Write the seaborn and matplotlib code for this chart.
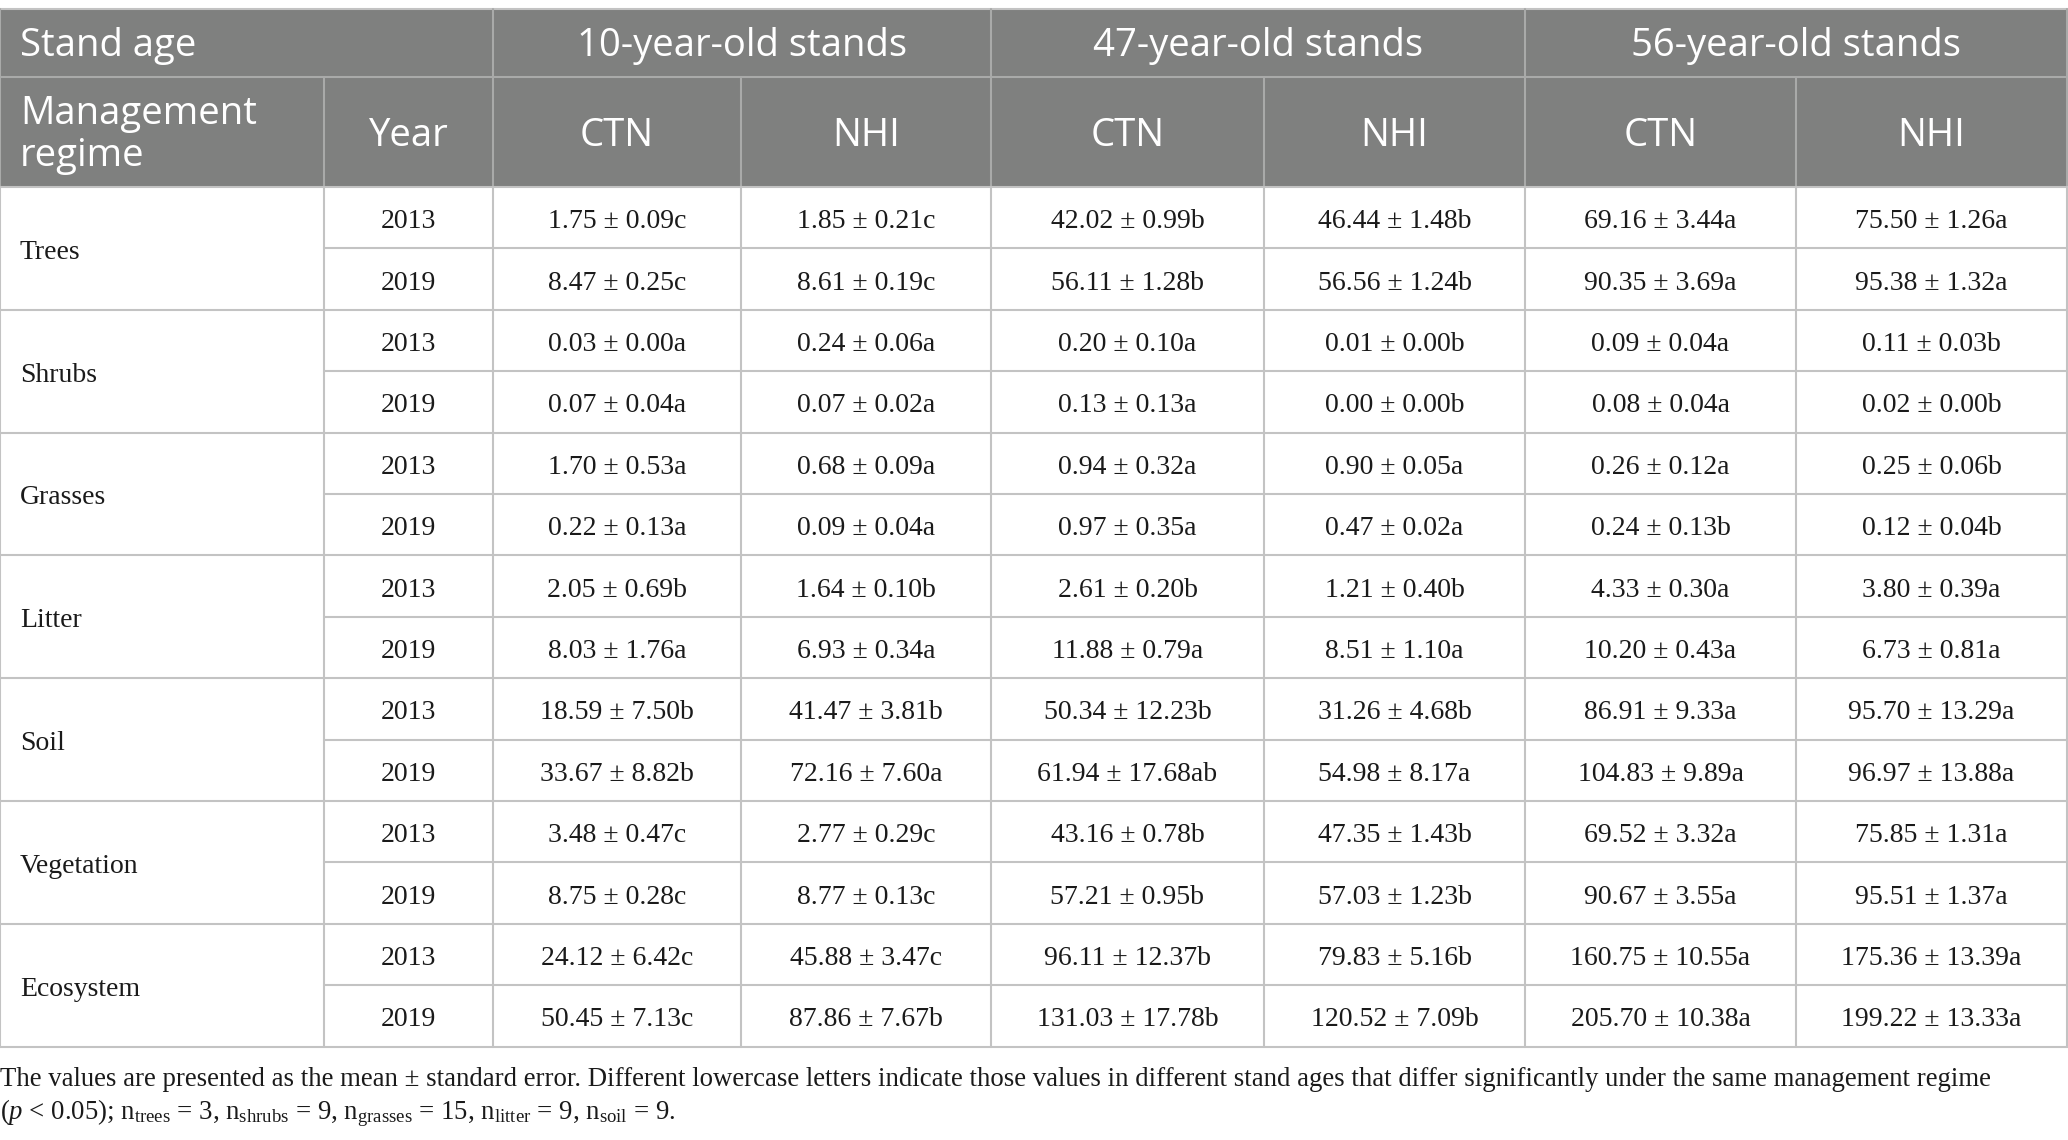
import numpy as np
import pandas as pd
import seaborn as sns
import matplotlib
import matplotlib.pyplot as plt
from matplotlib.patches import Rectangle

# 数据：均值 ± 标准误 + 显著性字母
categories = ["Trees", "Shrubs", "Grasses", "Litter", "Soil", "Vegetation", "Ecosystem"]
years = ["2013", "2019"]
stand_ages = ["10-year-old stands", "47-year-old stands", "56-year-old stands"]
regimes = ["CTN", "NHI"]

mean_10_ctn = [1.75, 8.47, 0.03, 0.07, 1.70, 0.22, 2.05, 8.03, 18.59, 33.67, 3.48, 8.75, 24.12, 50.45]
se_10_ctn = [0.09, 0.25, 0.00, 0.04, 0.53, 0.13, 0.69, 1.76, 7.50, 8.82, 0.47, 0.28, 6.42, 7.13]
sig_10_ctn = ["c", "c", "a", "a", "a", "a", "b", "a", "b", "b", "c", "c", "c", "c"]

mean_10_nhi = [1.85, 8.61, 0.24, 0.07, 0.68, 0.09, 1.64, 6.93, 41.47, 72.16, 2.77, 8.77, 45.88, 87.86]
se_10_nhi = [0.21, 0.19, 0.06, 0.02, 0.09, 0.04, 0.10, 0.34, 3.81, 7.60, 0.29, 0.13, 3.47, 7.67]
sig_10_nhi = ["c", "c", "a", "a", "a", "a", "b", "a", "b", "a", "c", "c", "c", "b"]

mean_47_ctn = [42.02, 56.11, 0.20, 0.13, 0.94, 0.97, 2.61, 11.88, 50.34, 61.94, 43.16, 57.21, 96.11, 131.03]
se_47_ctn = [0.99, 1.28, 0.10, 0.13, 0.32, 0.35, 0.20, 0.79, 12.23, 17.68, 0.78, 0.95, 12.37, 17.78]
sig_47_ctn = ["b", "b", "a", "a", "a", "a", "b", "a", "b", "ab", "b", "b", "b", "b"]

mean_47_nhi = [46.44, 56.56, 0.01, 0.00, 0.90, 0.47, 1.21, 8.51, 31.26, 54.98, 47.35, 57.03, 79.83, 120.52]
se_47_nhi = [1.48, 1.24, 0.00, 0.00, 0.05, 0.02, 0.40, 1.10, 4.68, 8.17, 1.43, 1.23, 5.16, 7.09]
sig_47_nhi = ["b", "b", "b", "b", "a", "a", "b", "a", "b", "a", "b", "b", "b", "b"]

mean_56_ctn = [69.16, 90.35, 0.09, 0.08, 0.26, 0.24, 4.33, 10.20, 86.91, 104.83, 69.52, 90.67, 160.75, 205.70]
se_56_ctn = [3.44, 3.69, 0.04, 0.04, 0.12, 0.13, 0.30, 0.43, 9.33, 9.89, 3.32, 3.55, 10.55, 10.38]
sig_56_ctn = ["a", "a", "a", "a", "a", "b", "a", "a", "a", "a", "a", "a", "a", "a"]

mean_56_nhi = [75.50, 95.38, 0.11, 0.02, 0.25, 0.12, 3.80, 6.73, 95.70, 96.97, 75.85, 95.51, 175.36, 199.22]
se_56_nhi = [1.26, 1.32, 0.03, 0.00, 0.06, 0.04, 0.39, 0.81, 13.29, 13.88, 1.31, 1.37, 13.39, 13.33]
sig_56_nhi = ["a", "a", "b", "b", "b", "b", "a", "a", "a", "a", "a", "a", "a", "a"]

cols = [(mean_10_ctn, se_10_ctn, sig_10_ctn), (mean_10_nhi, se_10_nhi, sig_10_nhi),
        (mean_47_ctn, se_47_ctn, sig_47_ctn), (mean_47_nhi, se_47_nhi, sig_47_nhi),
        (mean_56_ctn, se_56_ctn, sig_56_ctn), (mean_56_nhi, se_56_nhi, sig_56_nhi)]

sns.set_theme(style="white")
matplotlib.rcParams['mathtext.fontset'] = 'custom'
matplotlib.rcParams['mathtext.rm'] = 'Liberation Serif'
matplotlib.rcParams['mathtext.it'] = 'Liberation Serif:italic'

W, H = 2068, 1140
fig = plt.figure(figsize=(W / 100, H / 100), dpi=100)
ax = fig.add_axes([0, 0, 1, 1])
ax.set_xlim(0, W)
ax.set_ylim(H, 0)
ax.axis("off")

# 版面
xb = [0, 324, 493, 741, 991, 1264, 1525, 1796, 2067]
y_top, y_mid, y_head = 9, 77, 187
row_h = 61.4
n_rows = len(categories) * len(years)
y_bot = y_head + n_rows * row_h

head_bg = "#7f807f"
head_line = "#a9aaa9"
grid = "#c3c3c3"
sans = ["Open Sans", "Noto Sans", "DejaVu Sans"]
serif = ["Liberation Serif", "DejaVu Serif"]

# 表头
ax.add_patch(Rectangle((0, y_top), W, y_head - y_top, color=head_bg, lw=0, zorder=1))
ax.plot([0, W], [y_top, y_top], color=grid, lw=1.5, zorder=3)
ax.plot([0, W], [y_mid, y_mid], color=head_line, lw=1.5, zorder=3)
for x in [xb[2], xb[4], xb[6]]:
    ax.plot([x, x], [y_top, y_mid], color=head_line, lw=1.5, zorder=3)
for x in xb[1:-1]:
    ax.plot([x, x], [y_mid, y_head], color=head_line, lw=1.5, zorder=3)
for x in [xb[0], xb[-1]]:
    ax.plot([x, x], [y_top, y_head], color=head_line, lw=1.5, zorder=3)

hs = 27.5
y1 = (y_top + y_mid) / 2 + 3
y2 = (y_mid + y_head) / 2 + 4
ax.text(20, y1, "Stand age", ha="left", va="center", color="white",
        fontsize=hs, family=sans, zorder=4)
for i, s in enumerate(stand_ages):
    xc = (xb[2 + 2 * i] + xb[4 + 2 * i]) / 2
    ax.text(xc, y1, s, ha="center", va="center", color="white",
            fontsize=hs, family=sans, zorder=4)
ax.text(20, y2 - 1, "Management\nregime", ha="left", va="center", color="white",
        fontsize=hs, family=sans, linespacing=1.12, zorder=4)
ax.text((xb[1] + xb[2]) / 2, y2, "Year", ha="center", va="center",
        color="white", fontsize=hs, family=sans, zorder=4)
for j in range(6):
    xc = (xb[2 + j] + xb[3 + j]) / 2
    ax.text(xc, y2, regimes[j % 2], ha="center", va="center",
            color="white", fontsize=hs, family=sans, zorder=4)

# 表体网格
for x in xb:
    ax.plot([x, x], [y_head, y_bot], color=grid, lw=1.5, zorder=3)
for r in range(n_rows + 1):
    y = y_head + r * row_h
    x0 = 0 if r % 2 == 0 else xb[1]
    ax.plot([x0, W], [y, y], color=grid, lw=1.5, zorder=3)

bs = 20
for k, cat in enumerate(categories):
    ax.text(20, y_head + (2 * k + 1) * row_h + 4, cat, ha="left", va="center", fontsize=bs,
            family=serif, color="#1a1a1a", zorder=4)
    for t, yr in enumerate(years):
        r = 2 * k + t
        yc = y_head + (r + 0.5) * row_h + 4
        ax.text((xb[1] + xb[2]) / 2, yc, yr, ha="center", va="center", fontsize=bs,
                family=serif, color="#1a1a1a", zorder=4)
        for j, (m, se, sg) in enumerate(cols):
            xc = (xb[2 + j] + xb[3 + j]) / 2
            ax.text(xc, yc, f"{m[r]:.2f} ± {se[r]:.2f}{sg[r]}", ha="center", va="center",
                    fontsize=bs, family=serif, color="#1a1a1a", zorder=4)

# 注释
note1 = ("The values are presented as the mean ± standard error. Different lowercase letters indicate "
         "those values in different stand ages that differ significantly under the same management regime")
note2 = (r"($\mathit{p}$ < 0.05); n$_{\mathrm{trees}}$ = 3, n$_{\mathrm{shrubs}}$ = 9, "
         r"n$_{\mathrm{grasses}}$ = 15, n$_{\mathrm{litter}}$ = 9, n$_{\mathrm{soil}}$ = 9.")
ax.text(0, 1079, note1, ha="left", va="center", fontsize=19.3, family=serif, color="#1a1a1a")
ax.text(0, 1113, note2, ha="left", va="center", fontsize=19.3, family=serif, color="#1a1a1a")

fig.savefig("out.png", dpi=100)
